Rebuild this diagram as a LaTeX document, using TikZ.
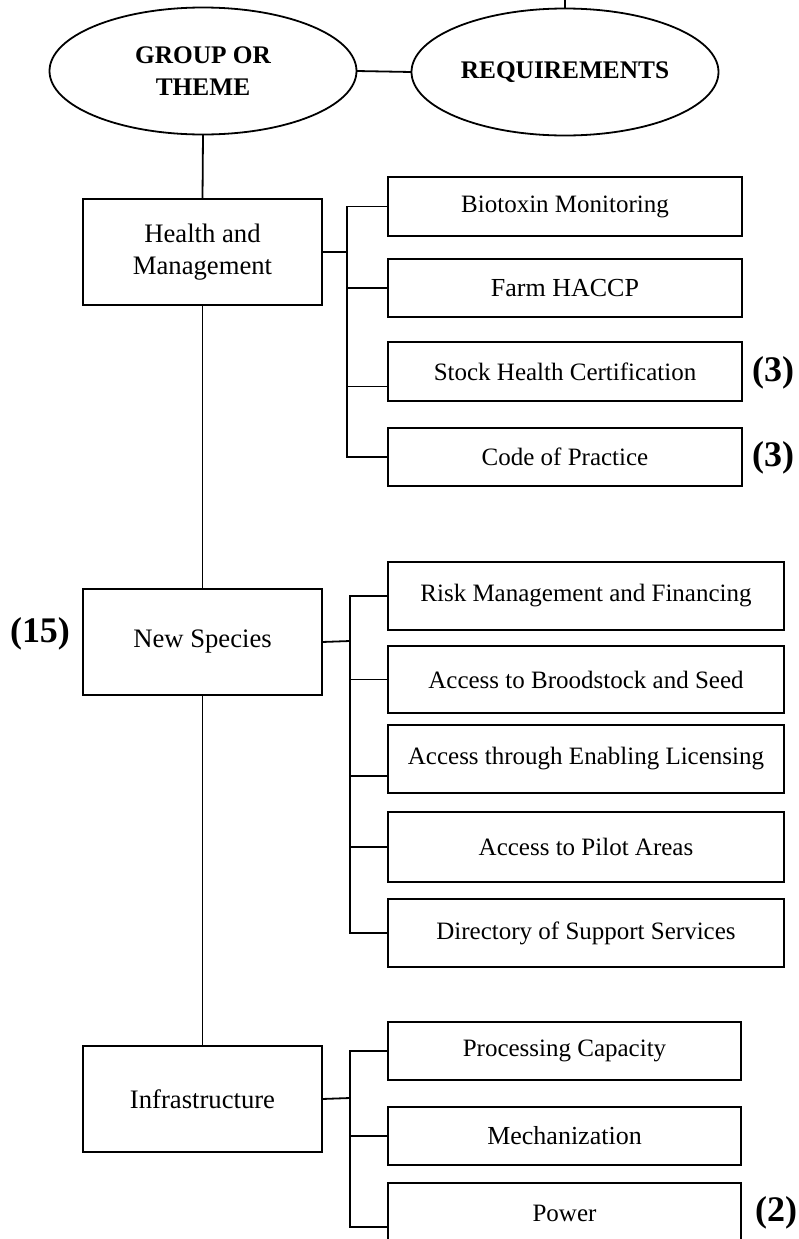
\documentclass[tikz,border=0pt]{standalone}
\usepackage{fontspec}
\setmainfont{Liberation Serif}
\usetikzlibrary{shapes.geometric}
\begin{document}
\begin{tikzpicture}[x=0.75pt,y=-0.75pt,line width=1.35pt,
  themebox/.style={draw,ellipse,inner sep=0pt,outer sep=0pt,minimum width=230.25pt,minimum height=95.25pt,align=center,font=\bfseries\fontsize{19}{24}\selectfont},
  groupbox/.style={draw,rectangle,inner sep=0pt,outer sep=0pt,minimum width=179.25pt,minimum height=79.5pt,align=center,font=\fontsize{20}{24}\selectfont},
  reqbox/.style={draw,rectangle,inner sep=0pt,outer sep=0pt,minimum height=44pt,font=\fontsize{18.75}{22}\selectfont},
  tally/.style={inner sep=0pt,font=\bfseries\fontsize{27}{30}\selectfont}]
\useasboundingbox (0,0) rectangle (799,1239);
\node[themebox] (grp) at (203,71) {GROUP OR\\THEME};
\node[themebox] (req) at (565,72) {REQUIREMENTS};
\coordinate (reqtop) at (565,-5);
\draw (reqtop) -- (req.north);
\draw (grp.east) -- (req.west);
\node[groupbox] (hm) at (202.5,252) {Health and\\Management};
\node[groupbox] (ns) at (202.5,642) {New Species};
\node[groupbox] (inf) at (202.5,1099) {Infrastructure};
\draw (grp.south) -- (hm.north);
\draw (hm.south) -- (ns.north);
\draw (ns.south) -- (inf.north);
\node[reqbox,minimum width=265.5pt] (bio) at (565,206.5) {Biotoxin Monitoring};
\node[reqbox,minimum width=265.5pt,font=\fontsize{19.5}{22}\selectfont] (farm) at (565,288) {Farm HACCP};
\node[reqbox,minimum width=265.5pt] (stock) at (565,371.5) {Stock Health Certification};
\node[reqbox,minimum width=265.5pt] (code) at (565,457) {Code of Practice};
\coordinate (hmbus) at (347,252);
\draw (hm.east) -- (hmbus);
\draw (bio.west) -| (hmbus);
\draw (farm.west) -| (hmbus);
\draw ([yshift=-11.25pt]stock.west) -| (hmbus);
\draw (code.west) -| (hmbus);
\node[reqbox,minimum width=297pt,minimum height=51pt] (risk) at (586,596) {Risk Management and Financing};
\node[reqbox,minimum width=297pt,minimum height=50.25pt] (brood) at (586,679.5) {Access to Broodstock and Seed};
\node[reqbox,minimum width=297pt,minimum height=51pt] (lic) at (586,759) {Access through Enabling Licensing};
\node[reqbox,minimum width=297pt,minimum height=52.5pt] (pilot) at (586,847) {Access to Pilot Areas};
\node[reqbox,minimum width=297pt,minimum height=51pt] (dir) at (586,933) {Directory of Support Services};
\coordinate (nsbus) at (350,641);
\draw (ns.east) -- (nsbus);
\draw (risk.west) -| (nsbus);
\draw (brood.west) -| (nsbus);
\draw ([yshift=-12.75pt]lic.west) -| (nsbus);
\draw (pilot.west) -| (nsbus);
\draw (dir.west) -| (nsbus);
\node[reqbox,minimum width=264.75pt,minimum height=43.5pt] (proc) at (564.5,1051) {Processing Capacity};
\node[reqbox,minimum width=264.75pt,minimum height=43.5pt,font=\fontsize{19.5}{22}\selectfont] (mech) at (564.5,1136) {Mechanization};
\node[reqbox,minimum width=264.75pt,minimum height=45pt] (pow) at (564.5,1213) {Power};
\coordinate (infbus) at (350,1098);
\draw (inf.east) -- (infbus);
\draw (proc.west) -| (infbus);
\draw (mech.west) -| (infbus);
\draw ([yshift=-10.5pt]pow.west) -| (infbus);
\node[tally] (n3a) at (773,373) {(3)};
\node[tally] (n3b) at (773,458) {(3)};
\node[tally] (n15) at (40,634) {(15)};
\node[tally] (n2) at (776,1213) {(2)};
\end{tikzpicture}
\end{document}
